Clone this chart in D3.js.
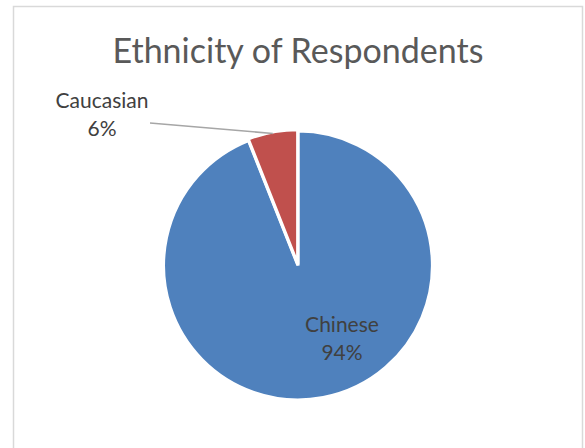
<!DOCTYPE html>
<html>
<head>
<meta charset="utf-8">
<script src="https://cdn.jsdelivr.net/npm/d3@7"></script>
<style>
  body { margin: 0; background: #fff; }
  svg { display: block; font-family: Lato, "Open Sans", sans-serif; }
</style>
</head>
<body>
<svg id="chart" width="585" height="448"></svg>
<script>
// chart data
var title = "Ethnicity of Respondents";
var categories = ["Chinese", "Caucasian"];
var values = [94, 6];
var percentLabels = ["94%", "6%"];

var svg = d3.select("#chart");
var width = 585, height = 448;
var cx = 298, cy = 265.5, radius = 134.5;

var color = d3.scaleOrdinal()
    .domain(categories)
    .range(["#4F81BD", "#C0504D"]);

// label placement relative to the pie centre (Excel "best fit")
var labelOffset = {
    "Chinese":   {dx: 44, dy: 66},
    "Caucasian": {dx: -196, dy: -157.5}
};
// how far each slice is pulled out
var explode = {"Chinese": 0, "Caucasian": 1.5};

var pieData = d3.pie()
    .sort(null)
    .value(function (d) { return d.value; })(
        categories.map(function (c, i) {
            return {name: c, value: values[i], pct: percentLabels[i]};
        }));

var arc = d3.arc().innerRadius(0).outerRadius(radius);
var edgeArc = d3.arc().innerRadius(radius - 1.6).outerRadius(radius - 1.6);

/**
 * chart frame
 */
function drawFrame(){
    svg.append("rect")
    .attr("x", 13.5)
    .attr("y", 6.5)
    .attr("width", 569)
    .attr("height", 470)
    .style("fill", "none")
    .style("stroke", "#d9d9d9")
    .style("stroke-width", 1.5);

    svg.append("text")
    .attr("x", cx)
    .attr("y", 63)
    .attr("text-anchor", "middle")
    .style("font-size", "34px")
    .style("fill", "#595959")
    .text(title);
}

function sliceShift(d){
    var mid = (d.startAngle + d.endAngle) / 2;
    var e = explode[d.data.name];
    return [Math.sin(mid) * e, -Math.cos(mid) * e];
}

/**
 * pie slices with white borders
 */
function drawSlices(){
    var g = svg.append("g")
    .attr("transform", "translate(" + cx + "," + cy + ")");

    g.selectAll(".slice")
    .data(pieData)
    .enter().append("path")
    .attr("class", "slice")
    .attr("transform", function (d) {
        var s = sliceShift(d);
        return "translate(" + s[0] + "," + s[1] + ")";
    })
    .attr("d", arc)
    .style("fill", function (d) { return color(d.data.name); })
    .style("stroke", "#fff")
    .style("stroke-width", 3.2)
    .style("stroke-linejoin", "miter");

    // leader line for the outside label
    g.selectAll(".leader")
    .data(pieData.filter(function (d) { return d.data.name == "Caucasian"; }))
    .enter().append("line")
    .attr("class", "leader")
    .attr("x1", function (d) { return labelOffset[d.data.name].dx + 48; })
    .attr("y1", function (d) { return labelOffset[d.data.name].dy + 15; })
    .attr("x2", function (d) { return edgeArc.centroid(d)[0] + sliceShift(d)[0]; })
    .attr("y2", function (d) { return edgeArc.centroid(d)[1] + sliceShift(d)[1]; })
    .style("stroke", "#a6a6a6")
    .style("stroke-width", 1.5);

    var labels = g.selectAll(".label")
    .data(pieData)
    .enter().append("text")
    .attr("class", "label")
    .attr("text-anchor", "middle")
    .style("font-size", "21px")
    .style("fill", "#404040");

    labels.append("tspan")
    .attr("x", function (d) { return labelOffset[d.data.name].dx; })
    .attr("y", function (d) { return labelOffset[d.data.name].dy; })
    .text(function (d) { return d.data.name; });

    labels.append("tspan")
    .attr("x", function (d) { return labelOffset[d.data.name].dx; })
    .attr("y", function (d) { return labelOffset[d.data.name].dy + 28; })
    .text(function (d) { return d.data.pct; });
}

drawFrame();
drawSlices();
</script>
</body>
</html>
